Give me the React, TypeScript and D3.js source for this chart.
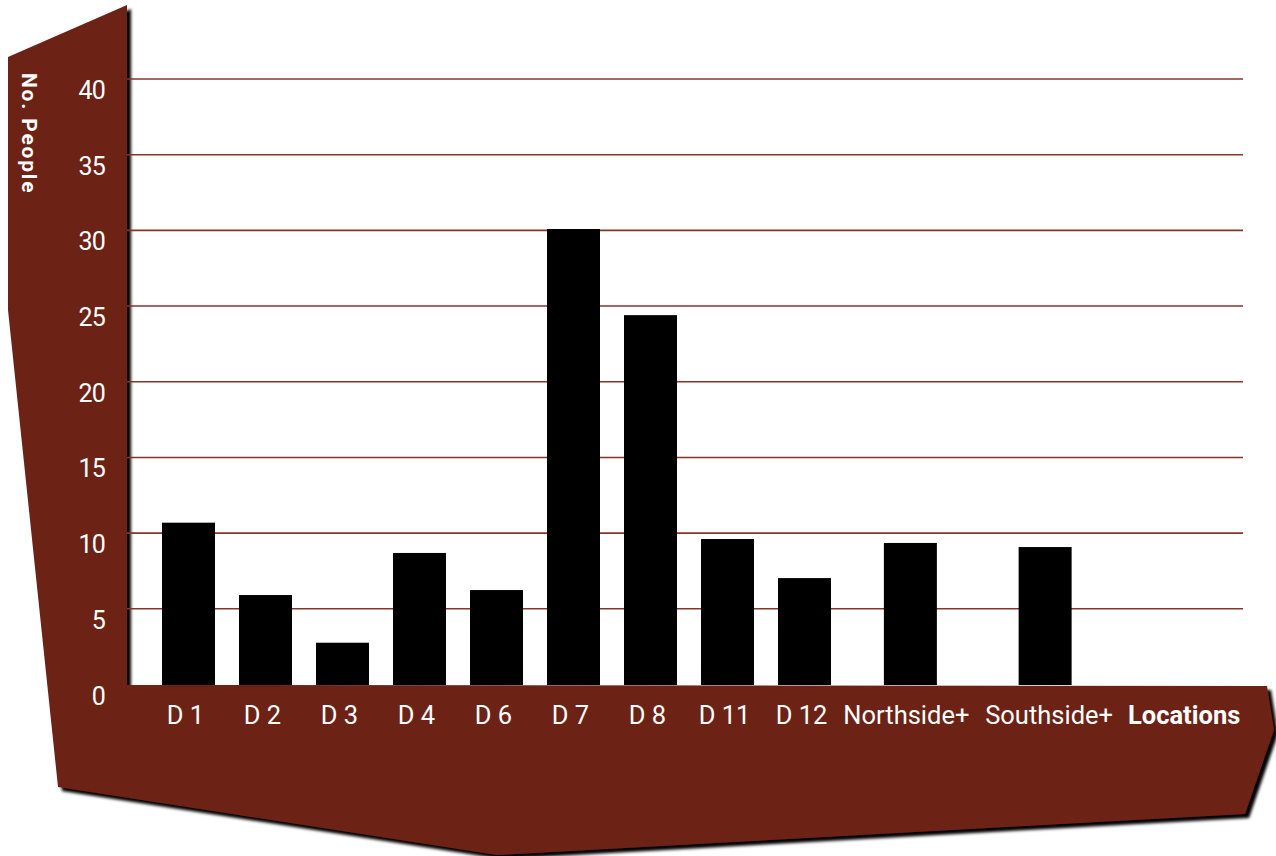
import React from "react";
import * as d3 from "d3";

const categories = ["D 1", "D 2", "D 3", "D 4", "D 6", "D 7", "D 8", "D 11", "D 12", "Northside+", "Southside+"];
const peopleCounts = [10.69, 5.91, 2.76, 8.69, 6.24, 30.09, 24.4, 9.61, 7.03, 9.35, 9.08];
const yTicks = [0, 5, 10, 15, 20, 25, 30, 35, 40];
const yTitle = "No. People";
const xTitle = "Locations";

const W = 1276;
const H = 856;
const MAROON = "#6d2118";
const plotLeft = 127;
const plotRight = 1243;
const plotTop = 79;
const plotBottom = 684.5;
const slotStart = 150;
const slotUnit = 77;
const barWidth = 53;
const FONT = "Roboto, 'DejaVu Sans', sans-serif";

export default function App() {
  // slot weights derived from label length (wide labels take more room)
  const weights = categories.map((c) => Math.max(1, c.length * 0.175));
  const cum: number[] = [];
  let acc = 0;
  weights.forEach((w) => {
    cum.push(acc + w / 2);
    acc += w;
  });
  const x = d3.scaleLinear().domain([0, acc]).range([slotStart, slotStart + acc * slotUnit]);
  const y = d3.scaleLinear().domain([0, 40]).range([plotBottom, plotTop]);

  const shape: [number, number][] = [
    [127, 5],
    [8, 57],
    [8, 310],
    [58, 787],
    [497, 855],
    [1245, 814],
    [1274, 730],
    [1267, 686],
    [127, 685],
  ];
  const shapePath = d3.line()(shape) + "Z";

  // wide labels spread apart slightly (flow layout of the axis labels)
  const labelShift = (c: string, i: number) => {
    if (c.length <= 4) return -3;
    return i === categories.length - 1 ? 4 : -4;
  };

  return (
    <svg
      width={W}
      height={H}
      style={{ position: "absolute", left: 0, top: 0, background: "#fff" }}
      fontFamily={FONT}
    >
      <defs>
        <filter id="shadow" x="-5%" y="-5%" width="110%" height="115%">
          <feDropShadow dx="4" dy="4" stdDeviation="1.6" floodColor="#000" floodOpacity="1" />
        </filter>
      </defs>
      <rect x={0} y={0} width={W} height={H} fill="#fff" />
      <path d={shapePath} fill={MAROON} filter="url(#shadow)" />

      {/* gridlines */}
      {yTicks
        .filter((t) => t > 0)
        .map((t) => (
          <line
            key={"g" + t}
            x1={plotLeft}
            x2={plotRight}
            y1={y(t)}
            y2={y(t)}
            stroke="#86352c"
            strokeWidth={1.6}
          />
        ))}

      {/* bars */}
      {categories.map((c, i) => (
        <rect
          key={"b" + c}
          x={x(cum[i]) - barWidth / 2}
          y={y(peopleCounts[i])}
          width={barWidth}
          height={plotBottom - y(peopleCounts[i]) + 0.5}
          fill="#000"
        />
      ))}

      {/* y tick labels */}
      {yTicks.map((t) => (
        <text
          key={"yl" + t}
          x={105}
          y={y(t) + 20}
          textAnchor="end"
          fill="#fff"
          fontSize={25}
          letterSpacing={-0.8}
        >
          {t}
        </text>
      ))}

      {/* x tick labels */}
      {categories.map((c, i) => (
        <text
          key={"xl" + c}
          x={x(cum[i]) + labelShift(c, i)}
          y={724}
          textAnchor="middle"
          fill="#fff"
          fontSize={25.5}
        >
          {c}
        </text>
      ))}

      <text x={1128} y={724} fill="#fff" fontSize={25.5} fontWeight="bold">
        {xTitle}
      </text>

      <text
        transform="translate(22,73) rotate(90)"
        fill="#fff"
        fontSize={21}
        fontWeight="bold"
        letterSpacing={1.8}
      >
        {yTitle}
      </text>
    </svg>
  );
}
